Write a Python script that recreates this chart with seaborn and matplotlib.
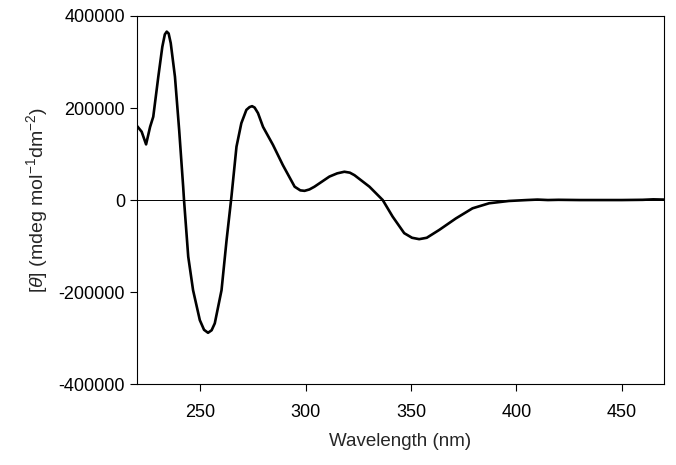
# CD spectrum - molar ellipticity vs wavelength
import numpy as np
import pandas as pd
import matplotlib
matplotlib.use("Agg")
import matplotlib.pyplot as plt
import seaborn as sns

# values
wavelength = [220, 222.2, 224.3, 226.2, 227.7, 230.1, 232, 233.2, 234.1, 235,
              236, 238, 240, 241.9, 242.3, 244.3, 246.6, 249.8, 251.8, 253.7,
              255.4, 256.9, 260.1, 262.5, 264.8, 267.2, 269.5, 271.9, 273.4, 274.6,
              275.8, 277.4, 279.8, 284.5, 289.2, 294.8, 297.5, 299.5, 301.8, 304.2,
              311.3, 315, 318.4, 321, 323.2, 330.3, 336.6, 341.3, 346.8, 350.5,
              353.9, 357.5, 363.4, 371.3, 379.2, 387.1, 396.5, 405, 410, 415,
              420, 430, 440, 450, 460, 465, 470]
ellipticity = [161000, 148500, 121000, 159000, 181000, 268000, 333000, 360000, 366000, 362000,
               341000, 268000, 152000, 29000, 0, -123000, -196000, -261000, -282000, -288500,
               -283000, -268000, -196000, -87000, 7000, 116000, 167000, 196000, 202000, 204000,
               201000, 189000, 159000, 120000, 76000, 29000, 21000, 20000, 23000, 29000,
               51000, 58000, 61500, 59500, 54000, 29000, 0, -36000, -72000, -82000,
               -85000, -82000, -65000, -40000, -18000, -7000, -2000, 0, 1000, 0,
               500, 0, 0, 0, 500, 1500, 1000]

df = pd.DataFrame({'Wavelength': wavelength, 'Theta': ellipticity})

sns.set_style('ticks')
plt.rcParams['font.family'] = ['Liberation Sans', 'DejaVu Sans']
plt.rcParams['mathtext.fontset'] = 'custom'
plt.rcParams['mathtext.rm'] = 'Liberation Sans'
plt.rcParams['mathtext.it'] = 'Liberation Sans:italic'
plt.rcParams['axes.unicode_minus'] = False

fig = plt.figure(figsize=(6.76, 4.65), dpi=100)
ax = fig.add_axes([0.2027, 0.174, 0.7793, 0.7916])

sns.lineplot(data=df, x='Wavelength', y='Theta', ax=ax, color='black', linewidth=1.9)
ax.axhline(0, color='black', linewidth=0.7)

ax.set_xlim(220, 470)
ax.set_ylim(-400000, 400000)
ax.set_xticks([250, 300, 350, 400, 450])
ax.set_yticks([-400000, -200000, 0, 200000, 400000])
ax.set_yticklabels(['-400000', '-200000', '0', '200000', '400000'])
ax.tick_params(direction='out', length=5, width=0.8, labelsize=13, colors='black')
ax.tick_params(axis='x', pad=9)
for s in ax.spines.values():
    s.set_color('black')
    s.set_linewidth(0.8)

ax.set_xlabel('Wavelength (nm)', fontsize=13.5, labelpad=9)
ax.set_ylabel(r'[$\it{\theta}$] (mdeg mol$^{\mathregular{-1}}$dm$^{\mathregular{-2}}$)',
              fontsize=14, labelpad=6)

plt.savefig('out.png', dpi=100)
